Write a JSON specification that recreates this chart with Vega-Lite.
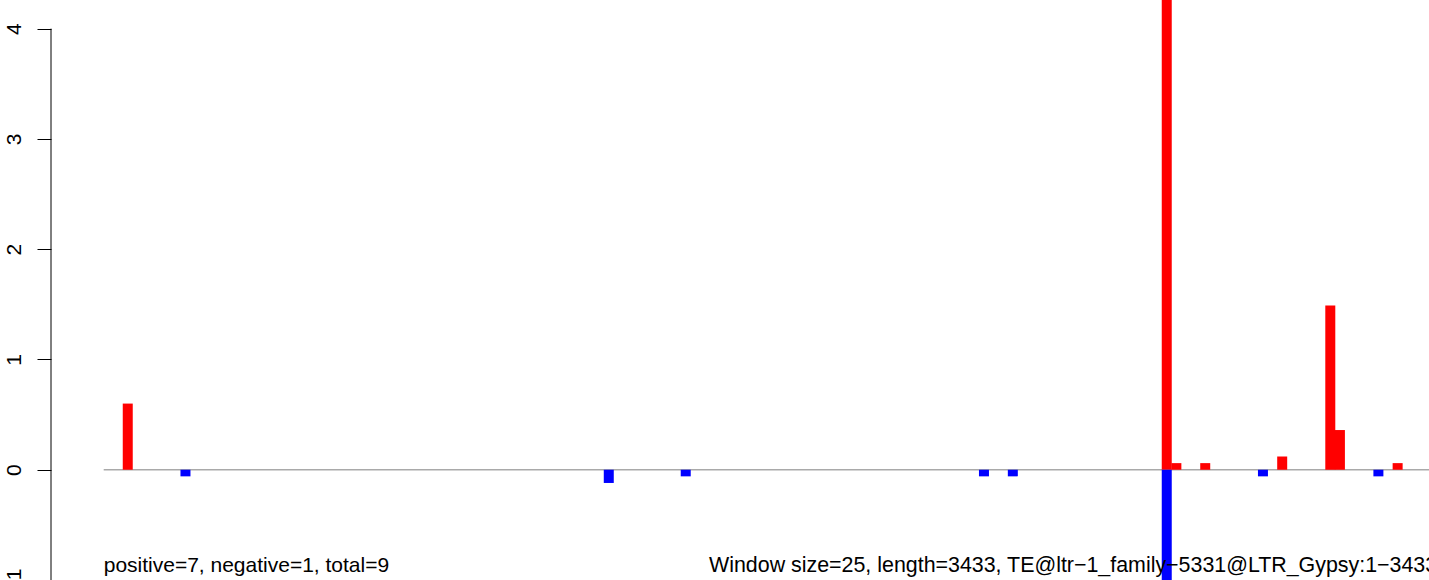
{
  "$schema": "https://vega.github.io/schema/vega-lite/v6.json",
  "width": 1378,
  "height": 580,
  "autosize": {"type": "none"},
  "padding": {"left": 51, "top": 0, "right": 0, "bottom": 0},
  "background": "white",
  "config": {"view": {"stroke": null}, "font": "Liberation Sans"},
  "datasets": {
    "bars": [
      {"win": 2, "value": 0.6, "strand": "+"},
      {"win": 8, "value": -0.06, "strand": "-"},
      {"win": 52, "value": -0.12, "strand": "-"},
      {"win": 60, "value": -0.06, "strand": "-"},
      {"win": 91, "value": -0.06, "strand": "-"},
      {"win": 94, "value": -0.06, "strand": "-"},
      {"win": 110, "value": 4.6, "strand": "+"},
      {"win": 110, "value": -1.3, "strand": "-"},
      {"win": 111, "value": 0.06, "strand": "+"},
      {"win": 114, "value": 0.06, "strand": "+"},
      {"win": 120, "value": -0.06, "strand": "-"},
      {"win": 122, "value": 0.12, "strand": "+"},
      {"win": 127, "value": 1.49, "strand": "+"},
      {"win": 128, "value": 0.36, "strand": "+"},
      {"win": 132, "value": -0.06, "strand": "-"},
      {"win": 134, "value": 0.06, "strand": "+"}
    ],
    "notes": [
      {"label": "positive=7, negative=1, total=9", "pos": "left"},
      {"label": "Window size=25, length=3433, TE@ltr−1_family−5331@LTR_Gypsy:1−3433", "pos": "right"}
    ],
    "one": [{}]
  },
  "layer": [
    {
      "data": {"name": "one"},
      "mark": {"type": "rule", "color": "#A9A9A9", "strokeWidth": 1.6, "clip": true},
      "encoding": {
        "x": {"datum": -0.5, "type": "quantitative", "scale": {"domain": [-5.978, 137.26], "nice": false, "zero": false, "padding": 0}, "axis": null},
        "x2": {"datum": 140},
        "y": {"datum": 0, "type": "quantitative"}
      }
    },
    {
      "data": {"name": "bars"},
      "mark": {"type": "bar", "size": 10, "clip": true},
      "encoding": {
        "x": {"field": "win", "type": "quantitative", "scale": {"domain": [-5.978, 137.26], "nice": false, "zero": false, "padding": 0}, "axis": null},
        "y": {
          "field": "value",
          "type": "quantitative",
          "stack": null,
          "scale": {"domain": [-1, 4.26], "nice": false, "zero": false},
          "axis": {
            "values": [-1, 0, 1, 2, 3, 4],
            "format": "d",
            "domain": false,
            "grid": false,
            "title": null,
            "tickSize": 14,
            "tickColor": "black",
            "tickWidth": 1,
            "labelAngle": 270,
            "labelAlign": "center",
            "labelBaseline": "alphabetic",
            "labelPadding": 17,
            "labelFontSize": 21,
            "labelColor": "black",
            "labelFont": "Liberation Sans",
            "labelFlush": false,
            "labelOverlap": false,
            "labelBound": false
          }
        },
        "color": {"field": "strand", "type": "nominal", "scale": {"domain": ["+", "-"], "range": ["#FF0000", "#0000FF"]}, "legend": null}
      }
    },
    {
      "data": {"name": "one"},
      "mark": {"type": "rule", "color": "black", "strokeWidth": 1},
      "encoding": {
        "x": {"datum": -5.978, "type": "quantitative"},
        "y": {"datum": -1, "type": "quantitative"},
        "y2": {"datum": 4}
      }
    },
    {
      "data": {"name": "notes"},
      "transform": [{"filter": "datum.pos === 'left'"}],
      "mark": {"type": "text", "align": "left", "baseline": "alphabetic", "fontSize": 21, "font": "Liberation Sans", "color": "black"},
      "encoding": {
        "x": {"datum": -0.5, "type": "quantitative"},
        "y": {"datum": -0.925, "type": "quantitative"},
        "text": {"field": "label"}
      }
    },
    {
      "data": {"name": "notes"},
      "transform": [{"filter": "datum.pos === 'right'"}],
      "mark": {"type": "text", "align": "left", "baseline": "alphabetic", "fontSize": 21.4, "font": "Liberation Sans", "color": "black"},
      "encoding": {
        "x": {"datum": 62.42, "type": "quantitative"},
        "y": {"datum": -0.925, "type": "quantitative"},
        "text": {"field": "label"}
      }
    }
  ]
}
